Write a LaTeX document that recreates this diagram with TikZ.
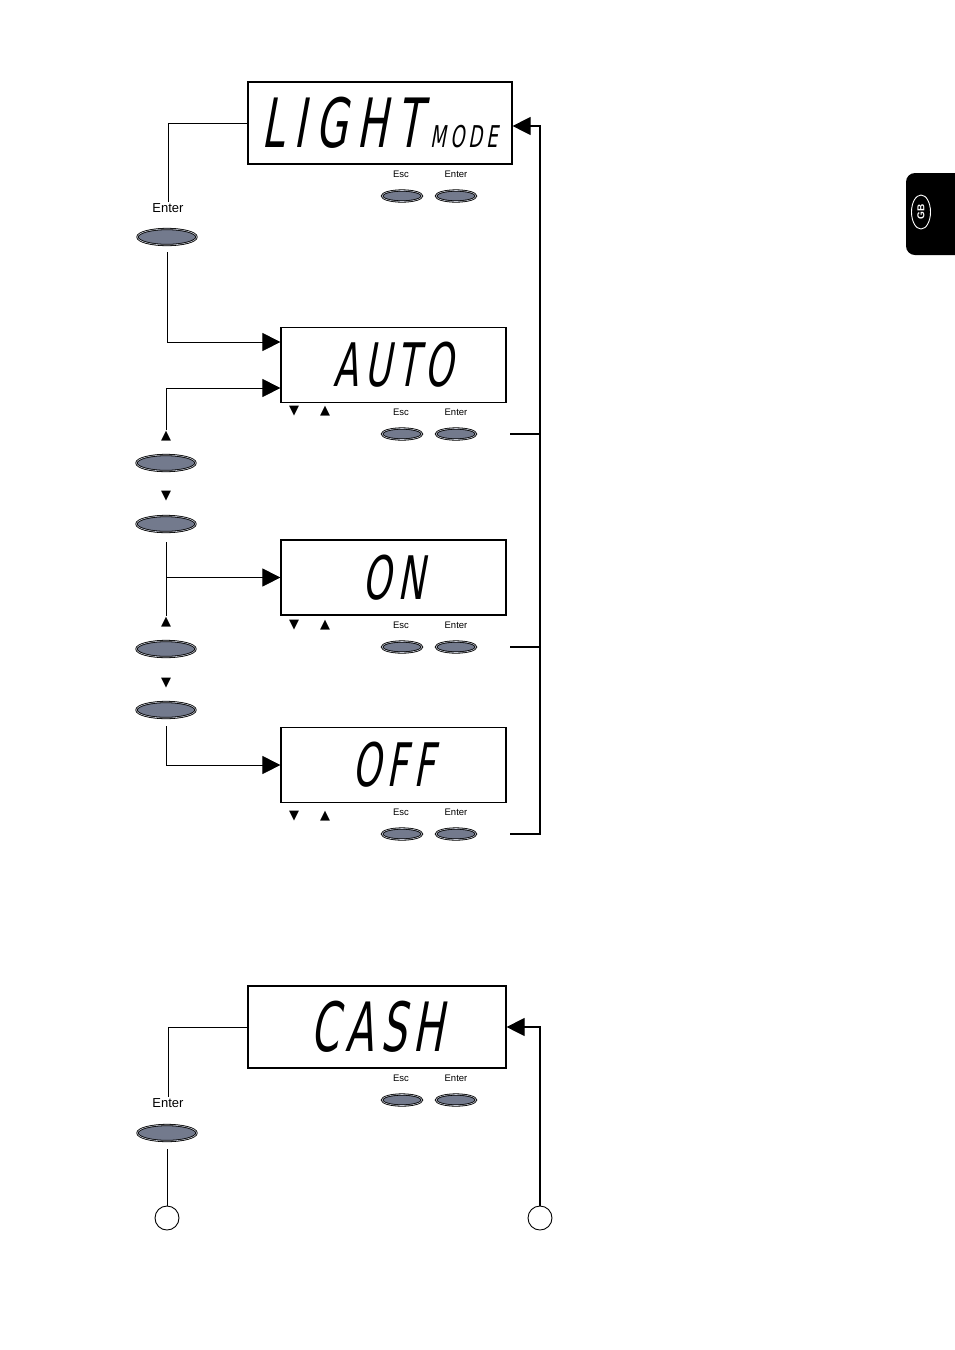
\documentclass[tikz,border=0pt]{standalone}
\usepackage{fontspec}
\setmainfont{Liberation Sans}
\newfontfamily\lcdfont[FakeSlant=0.18,FakeStretch=0.6,LetterSpace=10]{DejaVu Sans}
\newfontfamily\symfont{DejaVu Sans}
\usetikzlibrary{arrows.meta,shapes.geometric}
\definecolor{keygray}{HTML}{737A8D}
\definecolor{keyring}{HTML}{C4C8D2}
\begin{document}
\begin{tikzpicture}[x=1pt, y=-1pt, >={Triangle[length=18pt, width=18pt]}]
                \tikzset{
                    lcd/.style={rectangle, draw, line width=1.2pt, minimum width=225pt, minimum height=75pt, inner sep=0pt, font=\lcdfont\fontsize{60}{60}\selectfont},
                    key/.style={ellipse, draw=black, line width=0.8pt, double=keyring, double distance=0.6pt, fill=keygray, minimum width=40pt, minimum height=11pt, inner sep=0pt},
                    bigkey/.style={key, minimum width=59pt, minimum height=16pt},
                    keylabel/.style={font=\fontsize{9.5}{9.5}\selectfont, inner sep=1pt},
                    sidelabel/.style={font=\fontsize{13}{13}\selectfont, inner sep=1pt},
                    tri/.style={font=\symfont\fontsize{13}{13}\selectfont, inner sep=0.5pt},
                    wire/.style={line width=0.8pt},
                    ring/.style={circle, draw, line width=0.9pt, minimum size=24pt, inner sep=0pt}
                }
                \fill[white] (0,0) rectangle (954,1350);
                \useasboundingbox (0,0) rectangle (954,1350);
                % displays
                \node[lcd, minimum width=264pt, minimum height=82pt, font=\lcdfont\fontsize{68}{68}\selectfont] (light) at (380,123) {\addfontfeatures{LetterSpace=14}LIGHT\hspace{9pt}{\fontsize{30}{30}\selectfont MODE}};
                \node[lcd] (auto) at (393.5,365) {AUTO};
                \node[lcd] (on)   at (393.5,577.5) {ON};
                \node[lcd] (off)  at (393.5,765) {OFF};
                \node[lcd, minimum width=258pt, minimum height=82pt, font=\lcdfont\fontsize{68}{68}\selectfont] (cash) at (377,1027) {CASH};
                % Esc / Enter keys under each display
                \foreach \ly/\ky/\n in {174/196/a, 412/434/b, 625/647/c, 812/834/d, 1078/1100/e} {
                    \node[keylabel] (escl\n) at (401,\ly) {Esc};
                    \node[keylabel] (entl\n) at (456,\ly) {Enter};
                    \node[key] (esc\n) at (402,\ky) {};
                    \node[key] (ent\n) at (456,\ky) {};
                }
                \foreach \y/\n in {411/b, 625/c, 816/d} {
                    \node[tri] (dn\n) at (294,\y) {▼};
                    \node[tri] (up\n) at (325,\y) {▲};
                }
                % left column
                \node[sidelabel] (enter1) at (168,208) {Enter};
                \node[bigkey] (k1) at (167,237) {};
                \node[tri] (up1) at (166,436) {▲};
                \node[bigkey] (k2) at (166,463) {};
                \node[tri] (dn1) at (166,496) {▼};
                \node[bigkey] (k3) at (166,524) {};
                \node[tri] (up2) at (166,622) {▲};
                \node[bigkey] (k4) at (166,649) {};
                \node[tri] (dn2) at (166,683) {▼};
                \node[bigkey] (k5) at (166,710) {};
                \node[sidelabel] (enter2) at (168,1103) {Enter};
                \node[bigkey] (k6) at (167,1133) {};
                \node[ring] (c1) at (167,1218) {};
                \node[ring] (c2) at (540,1218) {};
                \coordinate (bus) at (540,833);
                % connectors
                \draw[wire] (light.west) -| (enter1.north);
                \draw[wire, ->, shorten <=7pt] (k1.south) |- ([yshift=23pt]auto.west);
                \draw[wire, ->] (up1.north) |- ([yshift=-23pt]auto.west);
                \draw[wire, shorten <=10pt] (k3.south) -- (up2.north);
                \draw[wire, ->, shorten <=10pt] (k3.south) |- (on.west);
                \draw[wire, ->, shorten <=8pt] (k5.south) |- (off.west);
                \draw[line width=1.2pt, ->] ([xshift=34pt]entd.east) -- (entd.east -| bus) |- ([yshift=-3pt]light.east);
                \draw[line width=1.2pt] ([xshift=34pt]entb.east) -- (entb.east -| bus);
                \draw[line width=1.2pt] ([xshift=34pt]entc.east) -- (entc.east -| bus);
                \draw[wire] (cash.west) -| (enter2.north);
                \draw[wire, shorten <=8pt] (k6.south) -- (c1.north);
                \draw[line width=1.2pt, ->] (c2.north) |- (cash.east);
                % GB tab
                \fill[black, rounded corners=9pt] (975,173) -- (906,173) -- (906,255) -- (975,255) -- cycle;
                \node[ellipse, draw=white, line width=0.9pt, minimum width=34pt, minimum height=19pt, inner sep=0pt, text=white, font=\bfseries\fontsize{10}{10}\selectfont, rotate=90] (gb) at (921,212) {GB};
            \end{tikzpicture}
\end{document}
